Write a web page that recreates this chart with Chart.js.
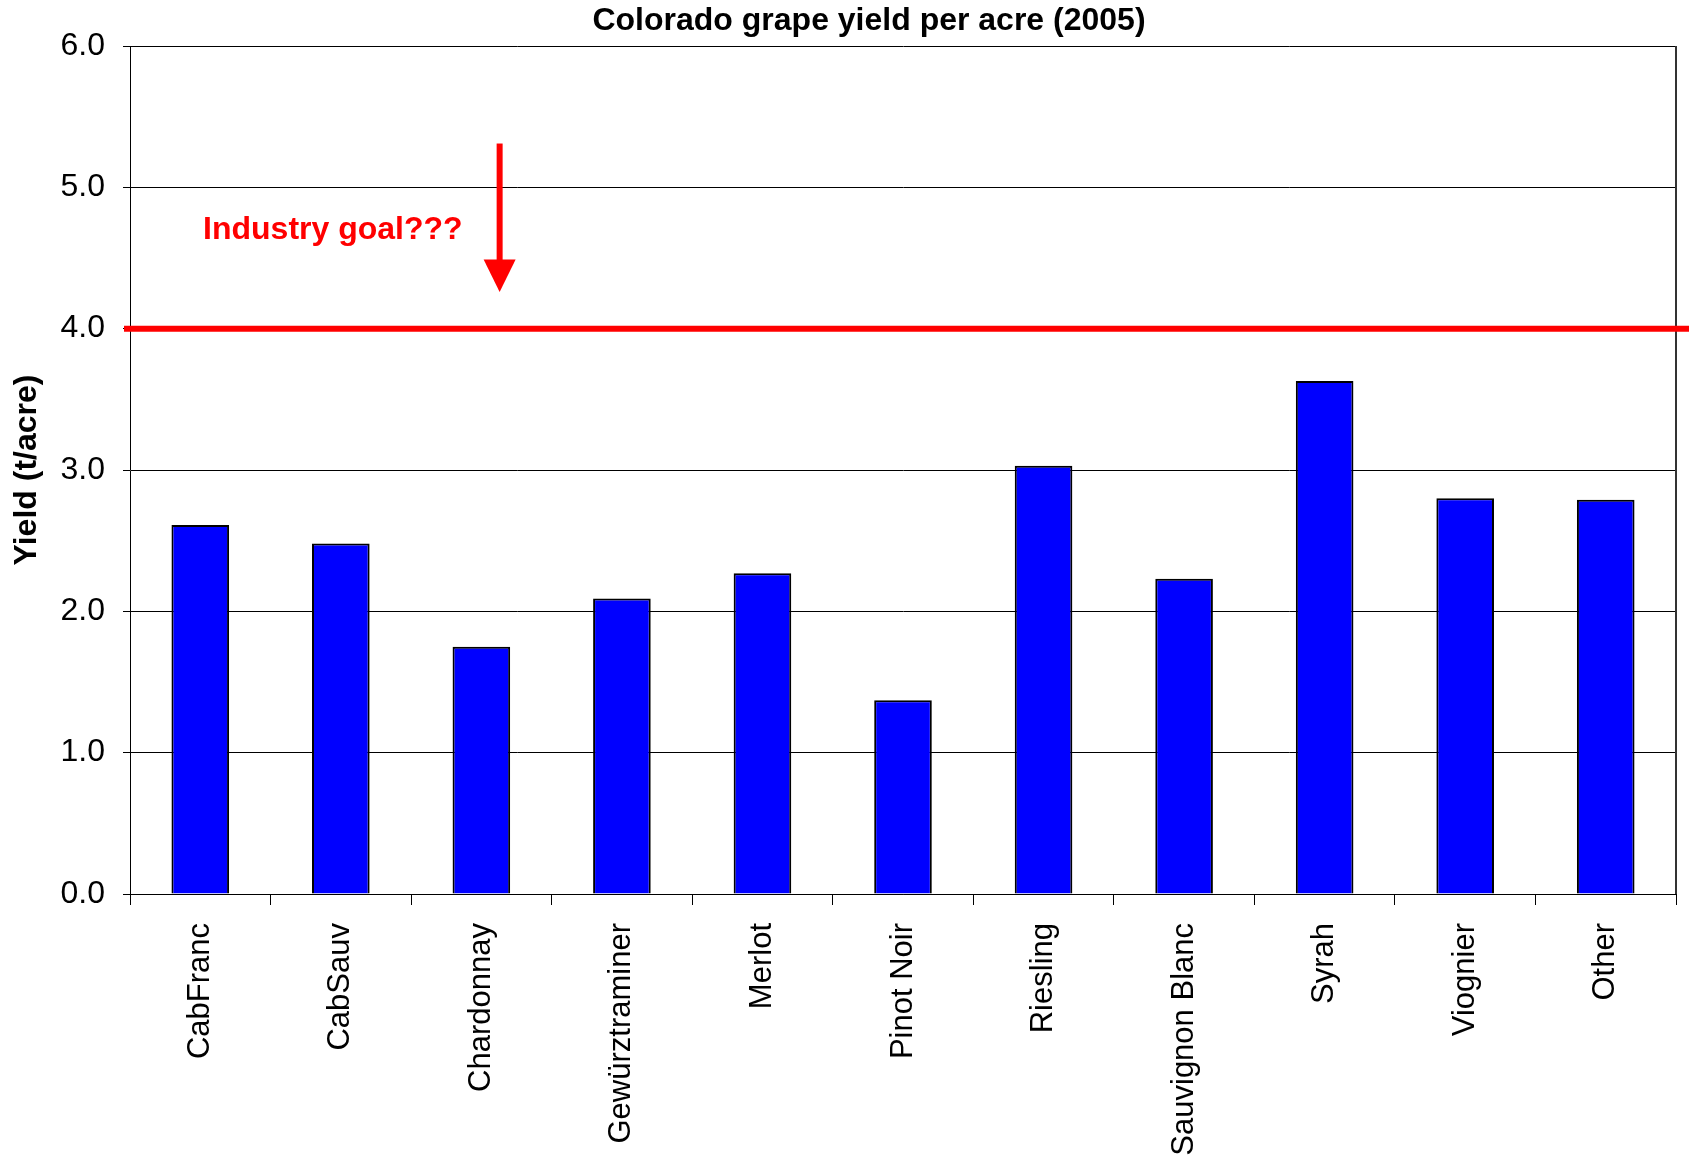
<!DOCTYPE html>
<html>
<head>
<meta charset="utf-8">
<title>Colorado grape yield per acre (2005)</title>
<script src="https://cdn.jsdelivr.net/npm/chart.js@4.4.0/dist/chart.umd.min.js"></script>
<style>
  html, body { margin: 0; padding: 0; background: #fff; }
  #wrap { width: 1689px; height: 1164px; }
</style>
</head>
<body>
<div id="wrap"><canvas id="miGrafico" width="1689" height="1164"></canvas></div>
<script>
// Datos
const variedades = ['CabFranc', 'CabSauv', 'Chardonnay', 'Gewürztraminer', 'Merlot', 'Pinot Noir',
    'Riesling', 'Sauvignon Blanc', 'Syrah', 'Viognier', 'Other'];
const rendimiento = [2.61, 2.48, 1.75, 2.09, 2.27, 1.37, 3.03, 2.23, 3.63, 2.80, 2.79];
const ticksY = [0, 1, 2, 3, 4, 5, 6];
const metaIndustria = 4.0;

const tituloGrafico = 'Colorado grape yield per acre (2005)';
const tituloEjeY = 'Yield (t/acre)';
const textoMeta = 'Industry goal???';

// Flecha y texto en unidades del grafico (indice de categoria, valor)
const flecha = { x: 2.13, desde: 5.31, cabeza: 4.49, hasta: 4.26 };
const posTexto = { x: 0.02, y: 4.70 };

const fuente = 'Liberation Sans, Arial, Helvetica, sans-serif';

// Dibujos extra: titulo, marco derecho, linea de meta, flecha y texto
const extras = {
    id: 'extras',
    afterDraw(chart) {
        const { ctx, chartArea, scales } = chart;
        const x = scales.x;
        const y = scales.y;
        ctx.save();

        // titulo
        ctx.fillStyle = '#000';
        ctx.font = 'bold 32px ' + fuente;
        ctx.textAlign = 'center';
        ctx.textBaseline = 'middle';
        ctx.fillText(tituloGrafico, 869, 21);

        // marco derecho
        ctx.strokeStyle = '#333';
        ctx.lineWidth = 2;
        ctx.beginPath();
        ctx.moveTo(chartArea.right, chartArea.top);
        ctx.lineTo(chartArea.right, chartArea.bottom);
        ctx.stroke();

        // linea de meta
        const yMeta = y.getPixelForValue(metaIndustria);
        ctx.strokeStyle = '#ff0000';
        ctx.lineWidth = 6;
        ctx.beginPath();
        ctx.moveTo(chartArea.left - 6, yMeta);
        ctx.lineTo(chart.width, yMeta);
        ctx.stroke();

        // flecha
        const xf = x.getPixelForValue(flecha.x);
        const y1 = y.getPixelForValue(flecha.desde);
        const y2 = y.getPixelForValue(flecha.cabeza);
        const y3 = y.getPixelForValue(flecha.hasta);
        ctx.beginPath();
        ctx.moveTo(xf, y1);
        ctx.lineTo(xf, y2 + 2);
        ctx.stroke();
        ctx.fillStyle = '#ff0000';
        ctx.beginPath();
        ctx.moveTo(xf - 16, y2);
        ctx.lineTo(xf + 16, y2);
        ctx.lineTo(xf, y3);
        ctx.closePath();
        ctx.fill();

        // texto
        ctx.font = 'bold 32px ' + fuente;
        ctx.textAlign = 'left';
        ctx.textBaseline = 'middle';
        ctx.fillText(textoMeta, x.getPixelForValue(posTexto.x), y.getPixelForValue(posTexto.y));

        ctx.restore();
    }
};

const ctx = document.getElementById('miGrafico').getContext('2d');
new Chart(ctx, {
    type: 'bar',
    data: {
        labels: variedades,
        datasets: [{
            data: rendimiento,
            backgroundColor: '#0000ff',
            borderColor: '#000',
            borderWidth: 2,
            categoryPercentage: 1,
            barPercentage: 0.41
        }]
    },
    options: {
        responsive: false,
        animation: false,
        devicePixelRatio: 1,
        layout: { padding: { top: 46, right: 13, bottom: 0, left: 0 } },
        plugins: {
            legend: { display: false },
            title: { display: false },
            tooltip: { enabled: false }
        },
        scales: {
            x: {
                grid: { color: '#000', drawOnChartArea: false, tickLength: 11, offset: true },
                border: { color: '#000', width: 1 },
                ticks: {
                    color: '#000',
                    font: { family: fuente, size: 31 },
                    minRotation: 90,
                    maxRotation: 90,
                    padding: 18,
                    autoSkip: false
                },
                afterFit: (scale) => { scale.height = 270; }
            },
            y: {
                min: 0,
                max: 6,
                afterBuildTicks: (scale) => { scale.ticks = ticksY.map(v => ({ value: v })); },
                grid: { color: '#000', tickLength: 7 },
                border: { color: '#000', width: 1 },
                ticks: {
                    color: '#000',
                    font: { family: fuente, size: 32 },
                    padding: 18,
                    callback: (v) => Number(v).toFixed(1)
                },
                title: {
                    display: true,
                    text: tituloEjeY,
                    color: '#000',
                    font: { family: fuente, size: 32, weight: 'bold' },
                    padding: { top: 8, bottom: 0 }
                },
                afterFit: (scale) => { scale.width = 130; }
            }
        }
    },
    plugins: [extras]
});
</script>
</body>
</html>
